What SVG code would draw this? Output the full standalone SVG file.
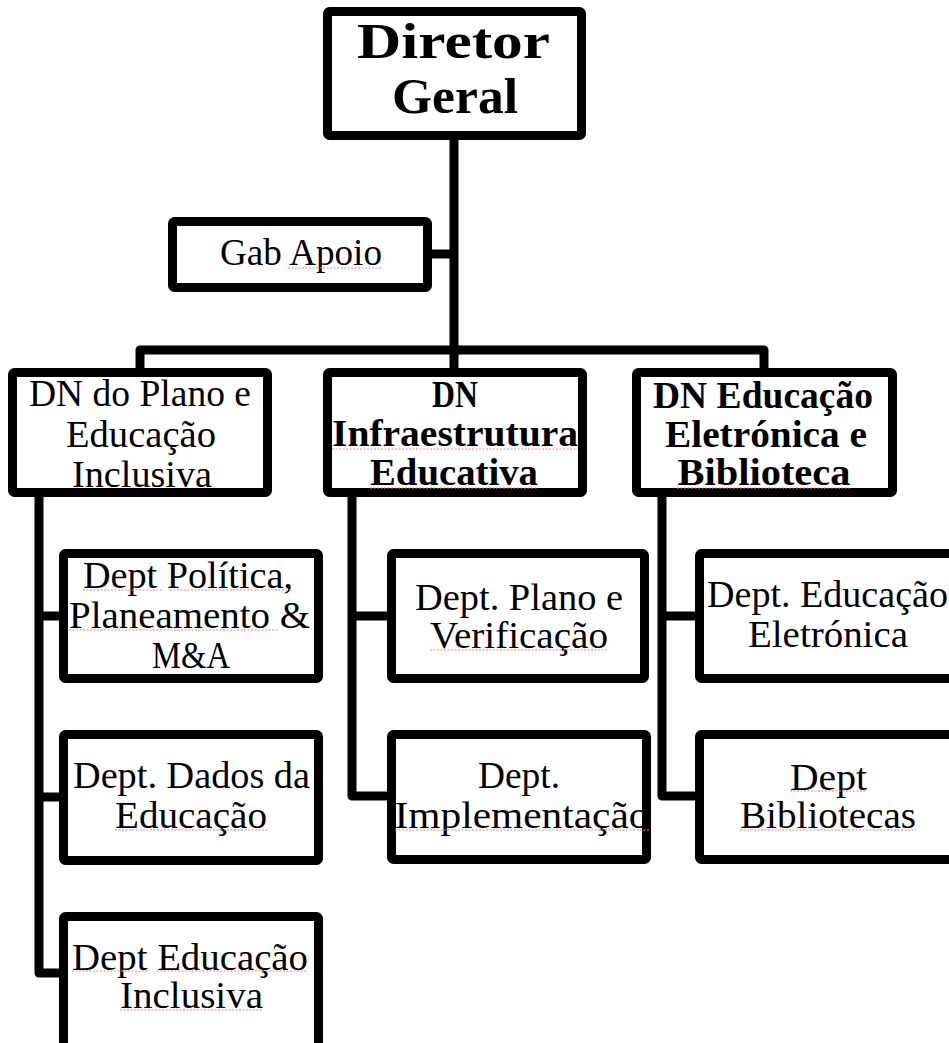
<svg xmlns="http://www.w3.org/2000/svg" width="949" height="1043" viewBox="0 0 949 1043">
  <style>
    .box { fill: #ffffff; stroke: #000000; stroke-width: 9; stroke-linejoin: round; }
    .wire { fill: none; stroke: #000000; stroke-width: 9; stroke-linejoin: round; stroke-linecap: butt; }
    .t { font-family: "Liberation Serif", "DejaVu Serif", serif; font-size: 38px; fill: #000000; text-anchor: middle; }
    .b { font-weight: bold; }
    .big { font-family: "Liberation Serif", "DejaVu Serif", serif; font-size: 51px; font-weight: bold; fill: #000000; text-anchor: middle; }
    .spell { fill: none; stroke: #ee8888; stroke-width: 1.2; stroke-dasharray: 2 1.5; }
  </style>
  <rect width="949" height="1043" fill="#ffffff"/>

  <!-- connectors -->
  <g id="connectors">
    <path class="wire" d="M454 140 V350"/>
    <path class="wire" d="M432 254 H454"/>
    <path class="wire" d="M140 368 V350 H764 V368"/>
    <path class="wire" d="M454 350 V368"/>
    <path class="wire" d="M39 497 V973 H59"/>
    <path class="wire" d="M39 616 H59"/>
    <path class="wire" d="M39 797 H59"/>
    <path class="wire" d="M352 497 V796 H387"/>
    <path class="wire" d="M352 616 H387"/>
    <path class="wire" d="M662 497 V796 H695"/>
    <path class="wire" d="M662 616 H695"/>
  </g>

  <g id="diretor-geral">
    <rect class="box" x="327.5" y="11.5" width="254" height="124" rx="2"/>
    <text class="big" x="453.5" y="58" textLength="193" lengthAdjust="spacingAndGlyphs">Diretor</text>
    <text class="big" x="455" y="113" textLength="126" lengthAdjust="spacingAndGlyphs">Geral</text>
  </g>

  <g id="gab-apoio">
    <rect class="box" x="172.5" y="221.5" width="255" height="66" rx="2"/>
    <text class="t" x="301" y="265" textLength="162" lengthAdjust="spacingAndGlyphs">Gab Apoio</text>
  </g>

  <g id="dn-plano">
    <rect class="box" x="12.5" y="372.5" width="255" height="120" rx="2"/>
    <text class="t" x="140" y="406" textLength="222" lengthAdjust="spacingAndGlyphs">DN do Plano e</text>
    <text class="t" x="141" y="447" textLength="150" lengthAdjust="spacingAndGlyphs">Educação</text>
    <text class="t" x="142" y="487" textLength="140" lengthAdjust="spacingAndGlyphs">Inclusiva</text>
  </g>

  <g id="dn-infraestrutura">
    <rect class="box" x="327.5" y="372.5" width="255" height="120" rx="2"/>
    <text class="t b" x="455" y="407" textLength="46" lengthAdjust="spacingAndGlyphs">DN</text>
    <text class="t b" x="455" y="446" textLength="246" lengthAdjust="spacingAndGlyphs">Infraestrutura</text>
    <text class="t b" x="454" y="485" textLength="168" lengthAdjust="spacingAndGlyphs">Educativa</text>
  </g>

  <g id="dn-educacao-eletronica">
    <rect class="box" x="636.5" y="372.5" width="256" height="120" rx="2"/>
    <text class="t b" x="763" y="408" textLength="220" lengthAdjust="spacingAndGlyphs">DN Educação</text>
    <text class="t b" x="766" y="447" textLength="202" lengthAdjust="spacingAndGlyphs">Eletrónica e</text>
    <text class="t b" x="764" y="485" textLength="173" lengthAdjust="spacingAndGlyphs">Biblioteca</text>
  </g>

  <g id="dept-politica">
    <rect class="box" x="63.5" y="553.5" width="255" height="125" rx="2"/>
    <text class="t" x="188" y="588" textLength="210" lengthAdjust="spacingAndGlyphs">Dept Política,</text>
    <text class="t" x="189.5" y="628" textLength="241" lengthAdjust="spacingAndGlyphs">Planeamento &amp;</text>
    <text class="t" x="191" y="668" textLength="78" lengthAdjust="spacingAndGlyphs">M&amp;A</text>
  </g>

  <g id="dept-dados">
    <rect class="box" x="63.5" y="734.5" width="255" height="126" rx="2"/>
    <text class="t" x="191.5" y="788" textLength="237" lengthAdjust="spacingAndGlyphs">Dept. Dados da</text>
    <text class="t" x="191" y="828" textLength="152" lengthAdjust="spacingAndGlyphs">Educação</text>
  </g>

  <g id="dept-educacao-inclusiva">
    <rect class="box" x="63.5" y="916.5" width="255" height="135" rx="2"/>
    <text class="t" x="190" y="970" textLength="236" lengthAdjust="spacingAndGlyphs">Dept Educação</text>
    <text class="t" x="191.5" y="1008" textLength="143" lengthAdjust="spacingAndGlyphs">Inclusiva</text>
  </g>

  <g id="dept-plano-verificacao">
    <rect class="box" x="391.5" y="553.5" width="253" height="125" rx="2"/>
    <text class="t" x="519" y="610" textLength="208" lengthAdjust="spacingAndGlyphs">Dept. Plano e</text>
    <text class="t" x="519" y="648" textLength="178" lengthAdjust="spacingAndGlyphs">Verificação</text>
  </g>

  <g id="dept-implementacao">
    <rect class="box" x="391.5" y="734.5" width="255" height="125" rx="2"/>
    <text class="t" x="519" y="788" textLength="82" lengthAdjust="spacingAndGlyphs">Dept.</text>
    <text class="t" x="522" y="828" textLength="255" lengthAdjust="spacingAndGlyphs">Implementação</text>
  </g>

  <g id="dept-educacao-eletronica">
    <rect class="box" x="699.5" y="553.5" width="255" height="125" rx="2"/>
    <text class="t" x="827.5" y="607" textLength="241" lengthAdjust="spacingAndGlyphs">Dept. Educação</text>
    <text class="t" x="828" y="647" textLength="160" lengthAdjust="spacingAndGlyphs">Eletrónica</text>
  </g>

  <g id="dept-bibliotecas">
    <rect class="box" x="699.5" y="734.5" width="255" height="125" rx="2"/>
    <text class="t" x="828.5" y="790" textLength="77" lengthAdjust="spacingAndGlyphs">Dept</text>
    <text class="t" x="828" y="828" textLength="176" lengthAdjust="spacingAndGlyphs">Bibliotecas</text>
  </g>

  <!-- proofing marks under flagged words -->
  <g id="spelling-marks">
    <path class="spell" d="M288 268 H383"/>
    <path class="spell" d="M332 449 H578"/>
    <path class="spell" d="M370 488 H538"/>
    <path class="spell" d="M677 488 H850"/>
    <path class="spell" d="M83 590 H162"/>
    <path class="spell" d="M170 590 H293"/>
    <path class="spell" d="M69 630 H278"/>
    <path class="spell" d="M430 650 H608"/>
    <path class="spell" d="M115 830 H267"/>
    <path class="spell" d="M395 830 H650"/>
    <path class="spell" d="M790 791 H867"/>
    <path class="spell" d="M740 830 H916"/>
    <path class="spell" d="M72 971 H148"/>
    <path class="spell" d="M157 971 H308"/>
    <path class="spell" d="M120 1010 H263"/>
  </g>
</svg>
